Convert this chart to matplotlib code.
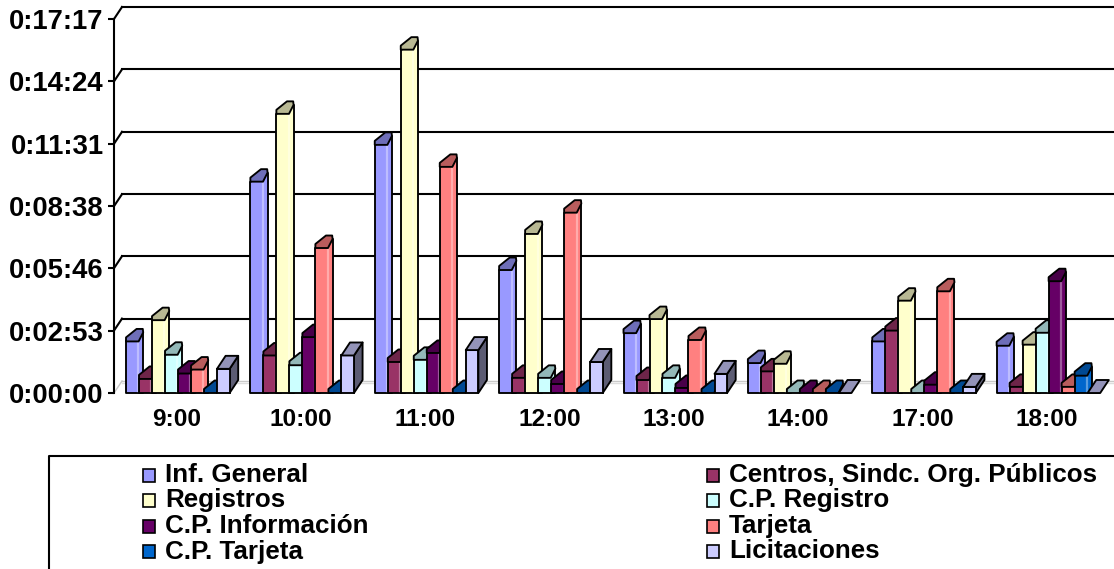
# -*- coding: utf-8 -*-
import matplotlib
matplotlib.use('Agg')
import matplotlib.pyplot as plt
from matplotlib.patches import Polygon, Rectangle

plt.rcParams['font.family'] = ['Liberation Sans', 'DejaVu Sans']
plt.rcParams['font.weight'] = 'bold'

horas = ['9:00', '10:00', '11:00', '12:00', '13:00', '14:00', '17:00', '18:00']
tick_seg = [0, 173, 346, 518, 691, 864, 1037]
tick_txt = ['0:00:00', '0:02:53', '0:05:46', '0:08:38', '0:11:31', '0:14:24', '0:17:17']

# tiempos en segundos
inf_general = [143, 586, 688, 341, 166, 83, 143, 131]
centros = [39, 104, 86, 42, 36, 60, 173, 17]
registros = [202, 774, 952, 441, 205, 81, 256, 134]
cp_registro = [106, 77, 92, 42, 42, 0, 0, 167]
cp_informacion = [54, 155, 111, 25, 14, 0, 23, 310]
tarjeta = [65, 402, 627, 500, 147, 0, 282, 17]
cp_tarjeta = [0, 0, 0, 0, 0, 0, 0, 48]
licitaciones = [67, 104, 119, 86, 53, 0, 17, 0]

nombres = ['Inf. General', 'Centros, Sindc. Org. Públicos', 'Registros', 'C.P. Registro',
           'C.P. Información', 'Tarjeta', 'C.P. Tarjeta', 'Licitaciones']
series = [inf_general, centros, registros, cp_registro,
          cp_informacion, tarjeta, cp_tarjeta, licitaciones]
colores = ['#9999FF', '#993366', '#FFFFCC', '#CCFFFF', '#660066', '#FF8080', '#0066CC', '#CCCCFF']


def oscuro(c, f):
    rgb = matplotlib.colors.to_rgb(c)
    return tuple(v * f for v in rgb)


def claro(c, f):
    rgb = matplotlib.colors.to_rgb(c)
    return tuple(v + (1 - v) * f for v in rgb)


fig = plt.figure(figsize=(11.14, 5.69), dpi=100)
W, H = 1114.0, 569.0
x0, x1, ytop, ybase = 114.0, 1109.0, 19.0, 393.0
ax = fig.add_axes([x0 / W, 1 - ybase / H, (x1 - x0) / W, (ybase - ytop) / H])
ax.set_xlim(0, len(horas))
ax.set_ylim(0, tick_seg[-1])

# pixeles a unidades de datos
ux = len(horas) / (x1 - x0)
uy = tick_seg[-1] / (ybase - ytop)

# pared del fondo
fx, fy = 8 * ux, 12 * uy
for t in tick_seg:
    col = '#C8C8C8' if t == 0 else 'black'
    lw = 1.0 if t == 0 else 1.5
    ax.plot([fx, len(horas) + 1], [t + fy, t + fy], color=col, lw=lw, clip_on=False, zorder=1)
    ax.plot([0, fx], [t, t + fy], color=col, lw=lw, clip_on=False, zorder=1)
# segunda linea del suelo
ax.plot([fx, len(horas) + 1], [fy - 2 * uy, fy - 2 * uy], color='#DDDDDD', lw=1.0, clip_on=False, zorder=1)

inicio = 12.0
paso = 13.0
ancho = 12.6
borde = 1.35

for j, vals in enumerate(series):
    c = colores[j]
    z = 3 + j * 0.1
    ultima = j == len(series) - 1
    pos = [i + (inicio + paso * j + ancho / 2) * ux for i in range(len(horas))]
    if ultima:
        ax.bar(pos, vals, width=ancho * ux, color=c, edgecolor='black', linewidth=borde,
               zorder=z + 0.02, clip_on=False)
    for p, v in zip(pos, vals):
        izq = p - ancho / 2 * ux
        alto = v / uy
        if ultima:
            # la ultima serie es una caja
            d, h = 8.6, 13.0
            forma = [(0, 0), (ancho, 0), (ancho + d, h), (d, h)]
            lado = [(ancho, 0), (ancho + d, h), (ancho + d, h - alto), (ancho, -alto)]
            col_lado = oscuro(c, 0.45)
        else:
            d = 4.6
            forma = [(0, 0), (ancho, 0), (ancho + d, 9), (ancho + d - 0.4, 12.5),
                     (ancho - 2, 12.5), (0, 4)]
            # silueta del cuerpo: frente y costado sin linea entre ellos
            lado = [(0, 0), (0, -alto), (ancho + d, -alto), (ancho + d, 9)]
            col_lado = c
        if v > 0:
            ax.add_patch(Polygon([(izq + a * ux, v + b * uy) for a, b in lado], closed=True,
                                 facecolor=col_lado, edgecolor='black', lw=borde,
                                 zorder=z, clip_on=False, joinstyle='round'))
            if not ultima and alto > 8:
                # brillo del cilindro
                ax.plot([izq + (ancho + d) * 0.72 * ux] * 2, [0 + 2 * uy, v - 1 * uy],
                        color=claro(c, 0.35), lw=1.6, zorder=z + 0.005, clip_on=False)
        ax.add_patch(Polygon([(izq + a * ux, v + b * uy) for a, b in forma], closed=True,
                             facecolor=oscuro(c, 0.72), edgecolor='black', lw=borde,
                             zorder=z + 0.03, clip_on=False, joinstyle='round'))

for s in ['top', 'right', 'bottom']:
    ax.spines[s].set_visible(False)
ax.spines['left'].set_linewidth(1.5)
ax.patch.set_alpha(0)

ax.set_yticks(tick_seg)
ax.set_yticklabels(tick_txt, fontsize=19.8, fontweight='bold')
ax.tick_params(axis='y', length=4.5, width=1.5, pad=3)
ax.set_xticks([i + 0.5 for i in range(len(horas))])
ax.set_xticklabels(horas, fontsize=17.6, fontweight='bold')
ax.tick_params(axis='x', length=0, pad=11)

# leyenda en una capa aparte, coordenadas en pixeles
lg = fig.add_axes([0, 0, 1, 1], zorder=5)
lg.set_xlim(0, W)
lg.set_ylim(H, 0)
lg.axis('off')
lg.plot([49, 49, W], [H, 455.5, 455.5], color='black', lw=1.5, clip_on=False)
filas = [475, 500.5, 526, 551.5]
for k, nombre in enumerate(nombres):
    fila = filas[k // 2]
    mx = 143 if k % 2 == 0 else 707
    lg.add_patch(Rectangle((mx, fila - 6.5), 12, 13, facecolor=colores[k],
                           edgecolor='black', lw=1.2))
    lg.text(mx + 22, fila, nombre, fontsize=18.7, fontweight='bold', va='center', ha='left')

fig.savefig('out.png', dpi=100)
